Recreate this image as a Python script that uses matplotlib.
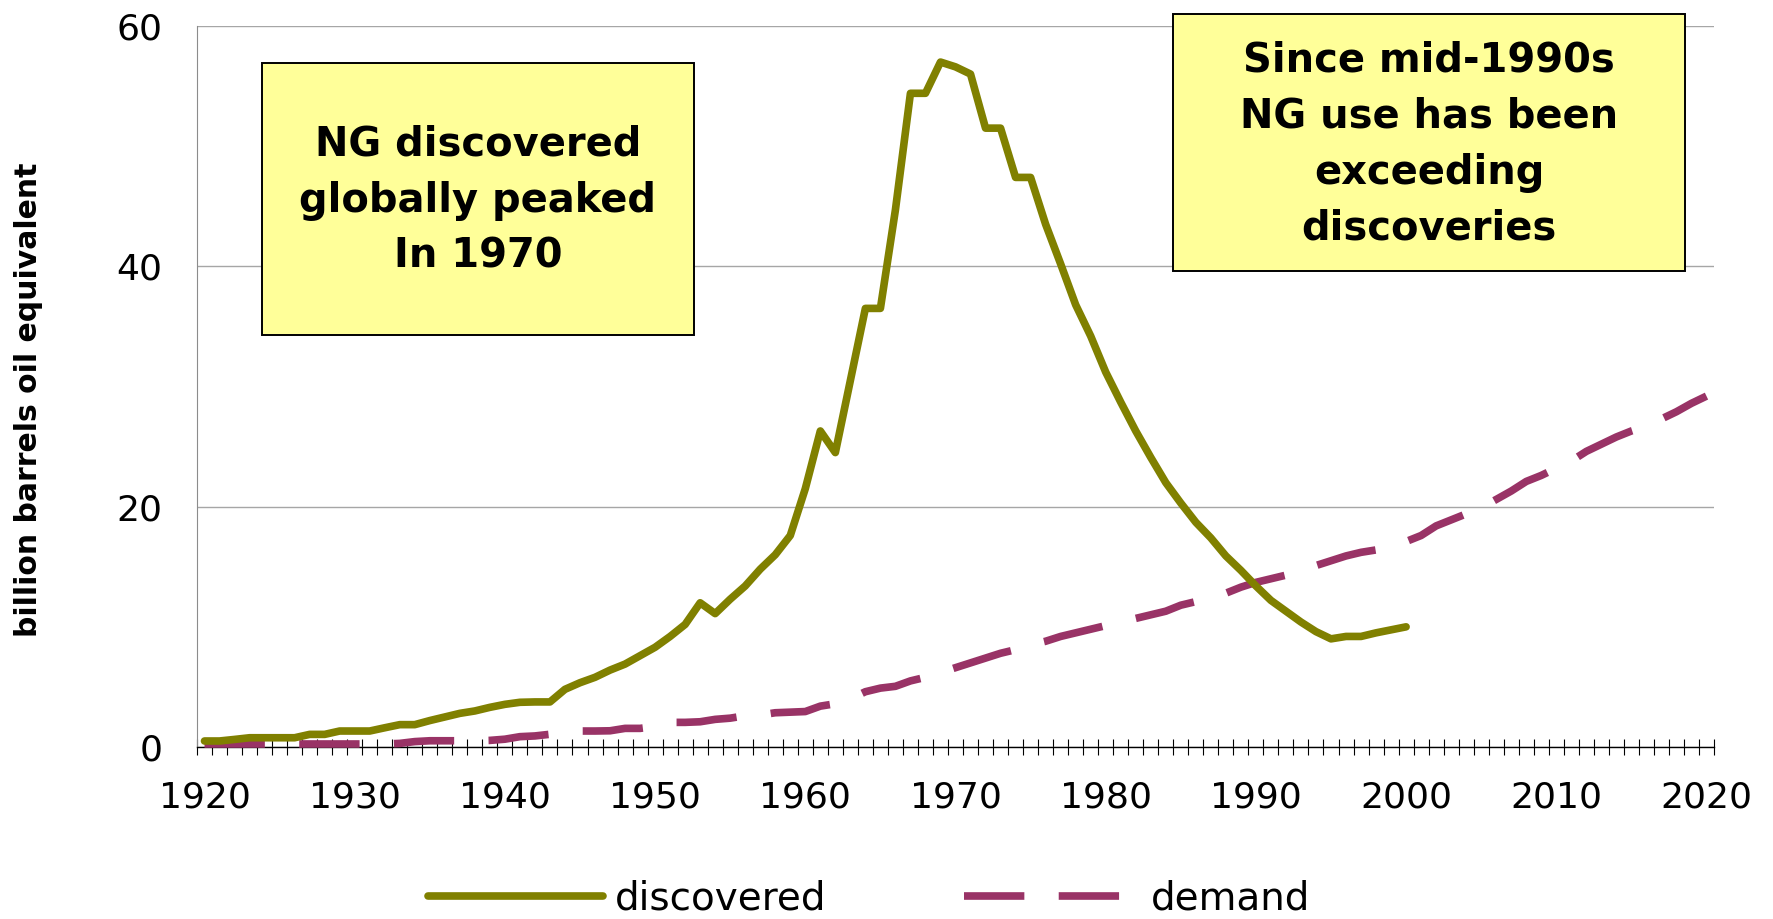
import numpy as np
import matplotlib
matplotlib.use("Agg")
import matplotlib.pyplot as plt
from matplotlib.patches import Rectangle

# data (billion barrels oil equivalent)
disc_years = np.arange(1920, 2001)
discovered = [
    0.5, 0.5, 0.63, 0.77, 0.77, 0.77, 0.77, 1.05, 1.05, 1.33,   # 1920s
    1.33, 1.33, 1.6, 1.86, 1.86, 2.2, 2.5, 2.8, 3.0, 3.3,       # 1930s
    3.55, 3.72, 3.75, 3.75, 4.8, 5.35, 5.8, 6.4, 6.9, 7.6,      # 1940s
    8.3, 9.2, 10.2, 12.0, 11.1, 12.3, 13.4, 14.8, 16.0, 17.6,   # 1950s
    21.5, 26.3, 24.5, 30.5, 36.5, 36.5, 44.7, 54.4, 54.4, 57.0, # 1960s
    56.6, 56.0, 51.5, 51.5, 47.4, 47.4, 43.5, 40.2, 36.8, 34.2, # 1970s
    31.2, 28.7, 26.3, 24.1, 22.0, 20.3, 18.7, 17.4, 15.9, 14.7, # 1980s
    13.4, 12.2, 11.3, 10.4, 9.6, 9.0, 9.2, 9.2, 9.5, 9.75,      # 1990s
    10.0,
]
dem_years = np.arange(1920, 2021)
demand = [
    0.25, 0.25, 0.25, 0.25, 0.25, 0.25, 0.25, 0.25, 0.25, 0.25,
    0.25, 0.25, 0.25, 0.3, 0.45, 0.52, 0.52, 0.52, 0.52, 0.55,
    0.65, 0.86, 0.92, 1.06, 1.2, 1.33, 1.33, 1.35, 1.55, 1.55,
    1.7, 2.05, 2.05, 2.1, 2.3, 2.4, 2.6, 2.66, 2.85, 2.9,
    2.95, 3.4, 3.6, 4.0, 4.6, 4.9, 5.05, 5.5, 5.8, 6.2,
    6.6, 7.0, 7.4, 7.8, 8.1, 8.5, 8.8, 9.2, 9.5, 9.8,
    10.1, 10.4, 10.7, 11.0, 11.3, 11.8, 12.1, 12.4, 12.8, 13.3,
    13.7, 14.0, 14.3, 14.6, 15.1, 15.5, 15.9, 16.2, 16.4, 16.7,
    17.1, 17.6, 18.4, 18.9, 19.4, 19.9, 20.6, 21.3, 22.1, 22.6,
    23.2, 23.8, 24.6, 25.2, 25.8, 26.3, 26.7, 27.3, 27.9, 28.6,
    29.2,
]
x_labels = np.arange(1920, 2021, 10)
y_labels = [0, 20, 40, 60]
y_title = "billion barrels oil equivalent"
series_names = ["discovered", "demand"]
note_left = "NG discovered\nglobally peaked\nIn 1970"
note_right = "Since mid-1990s\nNG use has been\nexceeding\ndiscoveries"

W, H = 1774, 919
plt.rcParams['font.family'] = ['DejaVu Sans']

fig = plt.figure(figsize=(W / 100, H / 100), dpi=100)
ax = fig.add_axes([197 / W, 1 - 747 / H, (1714 - 197) / W, (747 - 26) / H])

lw = 5.5
ax.plot(disc_years, discovered, color='#808000', lw=lw, solid_capstyle='round',
        solid_joinstyle='round', label=series_names[0], clip_on=False, zorder=4)
ax.plot(dem_years, demand, color='#993366', lw=lw, dashes=(7.9, 4.5), dash_capstyle='butt',
        label=series_names[1], clip_on=False, zorder=3)  # ~60px dash, ~34px gap

ax.set_xlim(1919.5, 2020.5)
ax.set_ylim(0, 60)
ax.set_xticks(x_labels)
ax.set_xticks(np.arange(1919.5, 2021, 1), minor=True)  # excel style: a tick between every category
ax.set_yticks(y_labels)
ax.tick_params(axis='x', which='major', length=0, pad=24, labelsize=26)
ax.tick_params(axis='x', which='minor', direction='inout', length=11.5, width=0.8, color='black')
ax.tick_params(axis='y', length=0, pad=25, labelsize=26)

ax.yaxis.grid(True, color='#A6A6A6', lw=1)
ax.set_axisbelow(True)
for s in ['top', 'right']:
    ax.spines[s].set_visible(False)
ax.spines['left'].set_color('#8C8C8C')
ax.spines['bottom'].set_color('black')
ax.spines['bottom'].set_linewidth(1)

fig.text(29 / W, 1 - 400 / H, y_title, rotation=90, ha='center', va='center',
         fontsize=21.5, fontweight='bold')

# yellow note boxes
for (x0, y0, x1, y1), txt in [((261.7, 62.7, 694, 335), note_left),
                               ((1173.3, 14.3, 1685, 270.7), note_right)]:
    fig.add_artist(Rectangle((x0 / W, 1 - y1 / H), (x1 - x0) / W, (y1 - y0) / H,
                             transform=fig.transFigure, facecolor='#FFFF99',
                             edgecolor='black', lw=1.4, zorder=5))
    fig.text((x0 + x1) / 2 / W, 1 - ((y0 + y1) / 2 + 2) / H, txt, ha='center', va='center',
             fontsize=28.8, fontweight='bold', linespacing=1.52, zorder=6)

ax.legend(loc='center', bbox_to_anchor=(0.4899, 1 - 898.5 / H), bbox_transform=fig.transFigure,
          ncol=2, frameon=False, fontsize=28, handlelength=4.5, handletextpad=0.3,
          columnspacing=3.55, borderpad=0, borderaxespad=0)

fig.savefig("out.png", dpi=100)
